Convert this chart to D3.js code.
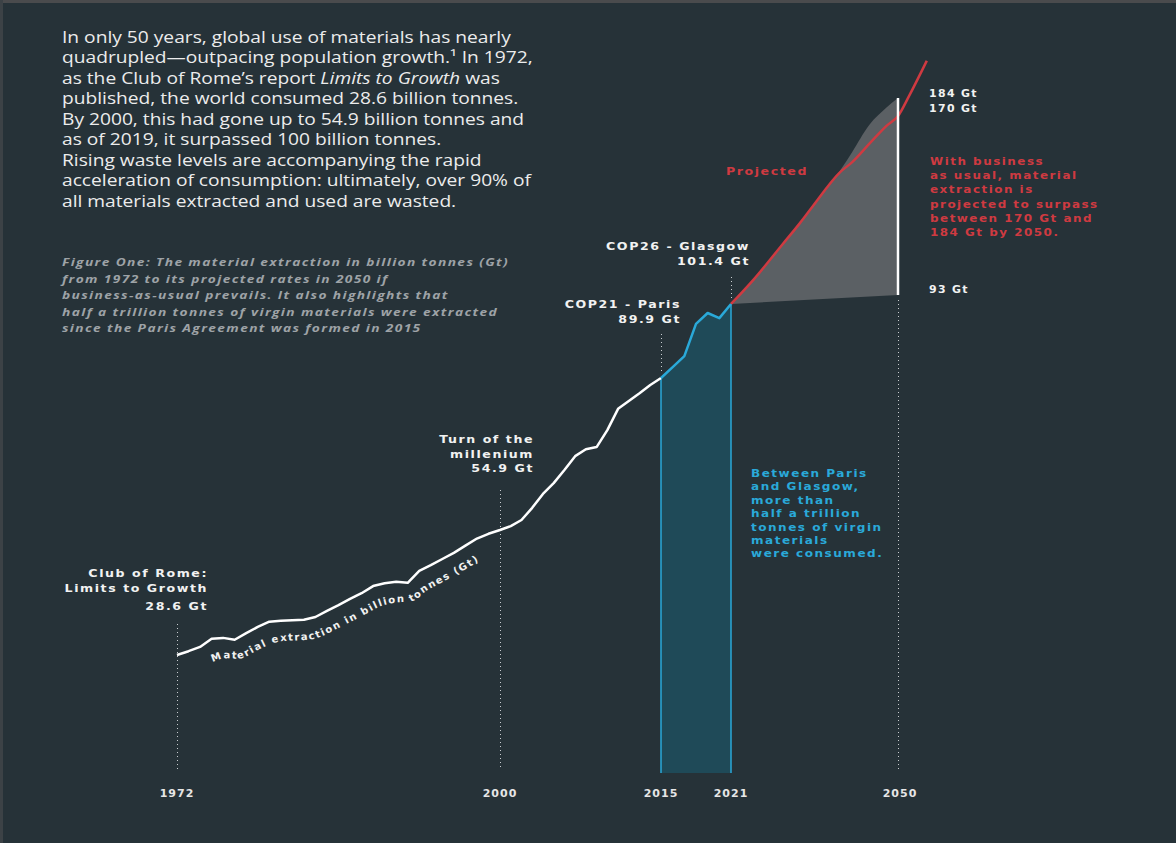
<!DOCTYPE html>
<html>
<head>
<meta charset="utf-8">
<script src="https://cdn.jsdelivr.net/npm/d3@7"></script>
<style>
  body { margin: 0; background: #263238; }
  svg { display: block; }
</style>
</head>
<body>
<div id="vis"></div>
<script>
const WIDTH = 1176;
const HEIGHT = 843;
const CHART_BOTTOM = 773;

const BG = "#263238";
const WHITE = "#f2f2f2";
const CYAN = "#2aa9d9";
const TEAL_FILL = "#1f4a58";
const RED = "#cf3a41";
const GREY_FILL = "#5b6064";
const LABEL_FONT = "'DejaVu Sans', sans-serif";

// ############
// data
// ############
const years = [
  1972, 1973, 1974, 1975, 1976, 1977, 1978, 1979, 1980, 1981,
  1982, 1983, 1984, 1985, 1986, 1987, 1988, 1989, 1990, 1991,
  1992, 1993, 1994, 1995, 1996, 1997, 1998, 1999, 2000, 2001,
  2002, 2003, 2004, 2005, 2006, 2007, 2008, 2009, 2010, 2011,
  2012, 2013, 2014, 2015, 2016, 2017, 2018, 2019, 2020, 2021
];
// material extraction, Gt
const extraction = [
  28.6, 29.4, 30.3, 32.0, 32.2, 31.8, 33.2, 34.5, 35.6, 35.8,
  35.9, 36.0, 36.6, 37.9, 39.1, 40.4, 41.6, 43.1, 43.7, 44.0,
  43.8, 46.3, 47.5, 48.8, 50.1, 51.6, 53.1, 54.1, 54.9, 55.8,
  57.2, 60.0, 63.2, 65.7, 68.7, 71.9, 73.5, 74.0, 77.9, 82.8,
  84.6, 86.4, 88.3, 89.9, 91.6, 93.3, 98.3, 100.0, 99.2, 101.4
];

// business as usual projection (red line)
const bauYears = [2021, 2025, 2030, 2033, 2035, 2040, 2042, 2045, 2048, 2050, 2052, 2055];
const bauValues = [101.4, 110.5, 123.3, 131.0, 136.5, 149.6, 153.1, 159.8, 166.4, 170, 186.3, 213];

// projection range (grey area)
const upperYears = [2021, 2025, 2030, 2033, 2035, 2040, 2042, 2045, 2048, 2050];
const upperValues = [101.4, 110.5, 123.3, 131.0, 136.5, 150.3, 156.7, 166.7, 176.6, 184];
const lowerYears = [2021, 2050];
const lowerValues = [101.4, 93];

const tickYears = [1972, 2000, 2015, 2021, 2050];

const milestones = [
  { year: 1972, lines: ["Club of Rome:", "Limits to Growth", "28.6 Gt"] },
  { year: 2000, lines: ["Turn of the", "millenium", "54.9 Gt"] },
  { year: 2015, lines: ["COP21 - Paris", "89.9 Gt"] },
  { year: 2021, lines: ["COP26 - Glasgow", "101.4 Gt"] }
];

const introLines = [
  ["In only 50 years, global use of materials has nearly"],
  ["quadrupled\u2014outpacing population growth.\u00b9 In 1972,"],
  ["as the Club of Rome\u2019s report ", "Limits to Growth", " was"],
  ["published, the world consumed 28.6 billion tonnes."],
  ["By 2000, this had gone up to 54.9 billion tonnes and"],
  ["as of 2019, it surpassed 100 billion tonnes."],
  ["Rising waste levels are accompanying the rapid"],
  ["acceleration of consumption: ultimately, over 90% of"],
  ["all materials extracted and used are wasted."]
];

const captionLines = [
  "Figure One: The material extraction in billion tonnes (Gt)",
  "from 1972 to its projected rates in 2050 if",
  "business-as-usual prevails. It also highlights that",
  "half a trillion tonnes of virgin materials were extracted",
  "since the Paris Agreement was formed in 2015"
];

const redNote = [
  "With business",
  "as usual, material",
  "extraction is",
  "projected to surpass",
  "between 170 Gt and",
  "184 Gt by 2050."
];

const blueNote = [
  "Between Paris",
  "and Glasgow,",
  "more than",
  "half a trillion",
  "tonnes of virgin",
  "materials",
  "were consumed."
];

// ############
// scales
// ############
const x = d3.scaleLinear()
  .domain([1972, 2000, 2015, 2021, 2050])
  .range([177, 500, 661, 731, 898]);

const y = d3.scaleLinear()
  .domain([28.6, 54.9, 89.9, 101.4, 170, 184])
  .range([655, 530, 378, 304, 116, 98]);

// lower bound of the projection is drawn on its own scale
const yLow = d3.scaleLinear().domain([93, 101.4]).range([295, 304]);

const hist = years.map((yr, i) => ({ year: yr, value: extraction[i] }));
const blueSeg = hist.filter((d) => d.year >= 2015);

// text in the original is a little wide, so stretch it horizontally
function stretched(sel, tx, ty, sx) {
  return sel
    .attr("x", 0)
    .attr("y", 0)
    .attr("transform", (d, i) =>
      "translate(" + (typeof tx === "function" ? tx(d, i) : tx) + "," +
      (typeof ty === "function" ? ty(d, i) : ty) + ") scale(" + sx + ",1)");
}

function boldLabel(sel, color) {
  return sel
    .attr("font-family", LABEL_FONT)
    .attr("font-weight", "bold")
    .attr("font-size", 10.5)
    .attr("letter-spacing", 1.3)
    .attr("fill", color);
}

// ############
// draw()
// ############
const svg = d3.select("#vis")
  .append("svg")
  .attr("width", WIDTH)
  .attr("height", HEIGHT);

svg.append("rect").attr("width", WIDTH).attr("height", HEIGHT).attr("fill", BG);
svg.append("rect").attr("width", WIDTH).attr("height", 3).attr("fill", "#4a4b4d");
svg.append("rect").attr("width", 3).attr("height", HEIGHT).attr("fill", "#3c4246");

// intro paragraph
const intro = svg.append("text")
  .attr("transform", "translate(62,0) scale(1.2,1)")
  .attr("font-family", "'Open Sans', sans-serif")
  .attr("font-size", 16)
  .attr("fill", "#ececec");

introLines.forEach((parts, i) => {
  parts.forEach((p, j) => {
    const t = intro.append("tspan").text(p);
    if (j === 0) t.attr("x", 0).attr("y", 43 + i * 20.5);
    if (parts.length === 3 && j === 1) t.attr("font-style", "italic");
  });
});

// figure caption
svg.append("g")
  .selectAll("text")
  .data(captionLines)
  .join("text")
  .call(stretched, 62, (d, i) => 266 + i * 16.6, 1.25)
  .attr("font-family", "'Open Sans', sans-serif")
  .attr("font-style", "italic")
  .attr("font-weight", "bold")
  .attr("font-size", 11)
  .attr("letter-spacing", 1.1)
  .attr("fill", "#9ea3a7")
  .text((d) => d);

// blue band between Paris and Glasgow
svg.append("path")
  .datum(blueSeg)
  .attr("d", d3.area()
    .x((d) => x(d.year))
    .y0(CHART_BOTTOM)
    .y1((d) => y(d.value)))
  .attr("fill", TEAL_FILL);

[2015, 2021].forEach((yr) => {
  const v = extraction[years.indexOf(yr)];
  svg.append("line")
    .attr("x1", x(yr)).attr("x2", x(yr))
    .attr("y1", y(v)).attr("y2", CHART_BOTTOM)
    .attr("stroke", CYAN)
    .attr("stroke-width", 1.5);
});

// projection grey area
const upperPts = upperYears.map((yr, i) => [x(yr), y(upperValues[i])]);
const lowerPts = lowerYears.map((yr, i) => [x(yr), yLow(lowerValues[i])]).reverse();
svg.append("path")
  .attr("d", d3.line().curve(d3.curveMonotoneX)(upperPts) + "L" + lowerPts.map((p) => p.join(",")).join("L") + "Z")
  .attr("fill", GREY_FILL);

// dotted guides
const dotted = [
  { year: 1972, y1: 624, y2: 770 },
  { year: 2000, y1: 490, y2: 770 },
  { year: 2015, y1: 334, y2: 372 },
  { year: 2021, y1: 277, y2: 301 },
  { year: 2050, y1: 300, y2: 770 }
];
svg.append("g")
  .selectAll("line")
  .data(dotted)
  .join("line")
  .attr("x1", (d) => x(d.year) + 0.5)
  .attr("x2", (d) => x(d.year) + 0.5)
  .attr("y1", (d) => d.y1)
  .attr("y2", (d) => d.y2)
  .attr("stroke", "#c9cdd0")
  .attr("stroke-width", 1)
  .attr("stroke-dasharray", "1,3");

// red business-as-usual line
svg.append("path")
  .datum(bauYears.map((yr, i) => ({ year: yr, value: bauValues[i] })))
  .attr("d", d3.line().curve(d3.curveMonotoneX)
    .x((d) => x(d.year))
    .y((d) => y(d.value)))
  .attr("fill", "none")
  .attr("stroke", RED)
  .attr("stroke-width", 2.5);

// white bar at 2050 between the bounds
svg.append("line")
  .attr("x1", x(2050)).attr("x2", x(2050))
  .attr("y1", y(184)).attr("y2", yLow(93))
  .attr("stroke", "#ffffff")
  .attr("stroke-width", 2.5);

// historical line
const histLine = d3.line().x((d) => x(d.year)).y((d) => y(d.value));

svg.append("path")
  .datum(hist.filter((d) => d.year <= 2015))
  .attr("d", histLine)
  .attr("fill", "none")
  .attr("stroke", "#ffffff")
  .attr("stroke-width", 2.5)
  .attr("stroke-linejoin", "round");

svg.append("path")
  .datum(blueSeg)
  .attr("d", histLine)
  .attr("fill", "none")
  .attr("stroke", CYAN)
  .attr("stroke-width", 2.5)
  .attr("stroke-linejoin", "round");

// label along the line
const labelPath = hist.filter((d) => d.year >= 1974 && d.year <= 1999);
svg.append("path")
  .datum(labelPath)
  .attr("id", "labelPath")
  .attr("d", d3.line().curve(d3.curveBasis)
    .x((d) => x(d.year) + 6)
    .y((d) => y(d.value) + 20))
  .attr("fill", "none");

svg.append("text")
  .attr("font-family", LABEL_FONT)
  .attr("font-weight", "bold")
  .attr("font-size", 10)
  .attr("letter-spacing", 1.5)
  .attr("fill", WHITE)
  .append("textPath")
  .attr("href", "#labelPath")
  .attr("startOffset", 8)
  .text("Material extraction in billion tonnes (Gt)");

// milestone labels
const labelOffsets = {
  1972: { dx: 31, y0: 577, step: 15 },
  2000: { dx: 34, y0: 443, step: 14.5 },
  2015: { dx: 20, y0: 308, step: 15 },
  2021: { dx: 19, y0: 250, step: 15 }
};

milestones.forEach((m) => {
  const o = labelOffsets[m.year];
  svg.append("g")
    .selectAll("text")
    .data(m.lines)
    .join("text")
    .call(stretched, x(m.year) + o.dx,
      (d, i) => o.y0 + i * o.step + (m.year === 1972 && i === 2 ? 3 : 0), 1.2)
    .attr("text-anchor", "end")
    .call(boldLabel, WHITE)
    .text((d) => d);
});

// right side values
const rightLabels = [
  { text: "184 Gt", y: 97 },
  { text: "170 Gt", y: 112 },
  { text: "93 Gt", y: 293 }
];
svg.append("g")
  .selectAll("text")
  .data(rightLabels)
  .join("text")
  .call(stretched, x(2050) + 31, (d) => d.y, 1.04)
  .call(boldLabel, WHITE)
  .text((d) => d.text);

svg.append("text")
  .datum("Projected")
  .call(stretched, 726, 175, 1.2)
  .call(boldLabel, RED)
  .text((d) => d);

svg.append("g")
  .selectAll("text")
  .data(redNote)
  .join("text")
  .call(stretched, x(2050) + 32, (d, i) => 165 + i * 14.2, 1.14)
  .call(boldLabel, RED)
  .text((d) => d);

svg.append("g")
  .selectAll("text")
  .data(blueNote)
  .join("text")
  .call(stretched, x(2021) + 20, (d, i) => 477 + i * 13.4, 1.15)
  .call(boldLabel, CYAN)
  .text((d) => d);

// year ticks
svg.append("g")
  .selectAll("text")
  .data(tickYears)
  .join("text")
  .attr("x", (d) => x(d) + (d === 2050 ? 2 : 0))
  .attr("y", 797)
  .attr("text-anchor", "middle")
  .attr("font-family", LABEL_FONT)
  .attr("font-weight", "bold")
  .attr("font-size", 11)
  .attr("letter-spacing", 1)
  .attr("fill", "#e6e6e6")
  .text((d) => d);
</script>
</body>
</html>
